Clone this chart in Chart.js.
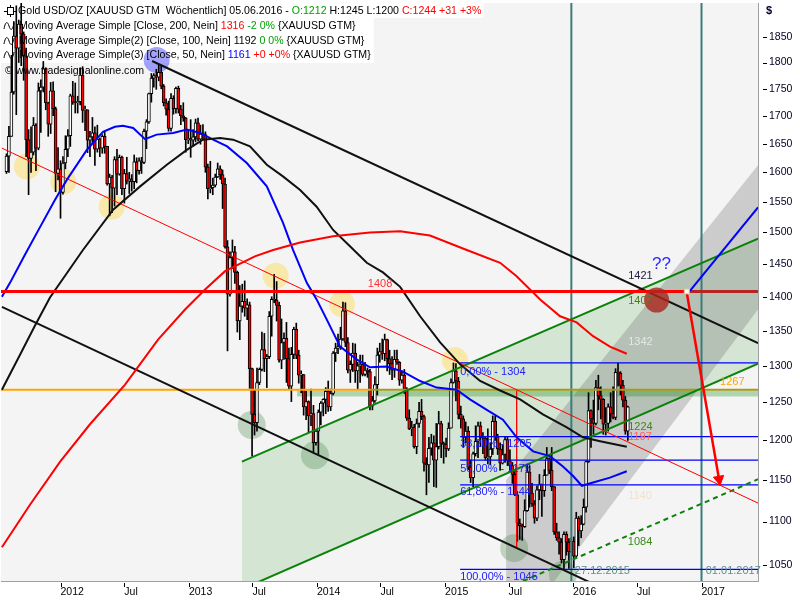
<!DOCTYPE html>
<html><head><meta charset="utf-8">
<script src="https://cdn.jsdelivr.net/npm/chart.js@4.4.1/dist/chart.umd.min.js"></script>
<style>html,body{margin:0;padding:0;background:#fff}canvas{display:block}</style>
</head><body>
<canvas id="c" width="800" height="600"></canvas>
<script>
// ---------- DATA ----------
// x values are days since 2012-01-01; weekly bars dated by week end (Sunday)
const firstBarDate = '2011-07-31';
const opens = [
1601,1628,1663,1744,1852,1828,1876,1856,1813,1657,1624,1635,1683,1642,1746,1753,1788,1724,1685,1746,1713,1598,1606,
1566,1616,1640,1664,1737,1725,1724,1726,1776,1710,1711,1656,1662,1669,1640,1658,1642,1663,1645,1580,1592,1573,1622,1597,1626,1572,1598,1585,1589,1584,1618,1603,1620,1617,1672,1689,1741,1770,1775,1772,1781,1755,1724,1712,1677,1732,1713,1751,1712,1700,1696,1657,1659,
1656,1662,1687,1658,1667,1666,1609,1572,1574,1578,1592,1606,1596,1580,1477,1404,1460,1469,1437,1364,1386,1393,1383,1388,1296,1234,1223,1277,1295,1323,1310,1313,1371,1396,1395,1387,1308,1333,1339,1310,1272,1316,1352,1315,1287,1288,1244,1251,1232,1235,1197,1212,
1237,1249,1254,1265,1244,1262,1318,1325,1327,1338,1379,1333,1294,1302,1318,1293,1300,1302,1288,1294,1292,1245,1252,1274,1315,1320,1317,1337,1310,1303,1294,1309,1305,1280,1287,1268,1229,1215,1217,1192,1222,1238,1231,1171,1169,1190,1197,1175,1192,1222,1196,1195,
1189,1216,1277,1293,1279,1234,1228,1204,1212,1166,1153,1183,1199,1219,1205,1203,1178,1179,1189,1225,1205,1189,1171,1182,1201,1174,1168,1157,1132,1098,1095,1094,1113,1160,1134,1121,1104,1138,1145,1137,1156,1177,1162,1142,1088,1081,1076,1056,1085,1076,1065,1077,
1060,1104,1089,1097,1117,1173,1239,1228,1222,1270,1259,1254,1221,1222,1244,1235,1230,1291,1290,1273,1253,1212];
const highs = [
1632,1681,1814,1881,1913,1884,1921,1860,1828,1675,1680,1697,1686,1761,1767,1802,1790,1725,1762,1763,1716,1643,1620,
1627,1664,1675,1740,1764,1761,1736,1790,1792,1718,1711,1672,1697,1680,1683,1660,1666,1672,1645,1597,1595,1627,1640,1630,1628,1605,1626,1600,1596,1630,1625,1625,1626,1676,1693,1742,1779,1779,1787,1796,1793,1758,1731,1727,1741,1737,1753,1755,1719,1724,1697,1674,1693,
1675,1694,1696,1683,1684,1671,1614,1619,1590,1597,1616,1611,1604,1590,1487,1469,1488,1478,1439,1417,1419,1424,1397,1392,1297,1267,1297,1297,1348,1346,1316,1378,1400,1434,1423,1392,1367,1347,1362,1325,1326,1355,1361,1322,1293,1288,1265,1252,1268,1246,1214,1240,
1251,1255,1270,1279,1268,1320,1332,1345,1355,1392,1391,1340,1307,1332,1331,1305,1315,1315,1305,1297,1295,1258,1285,1325,1332,1338,1345,1338,1322,1313,1322,1322,1306,1293,1295,1270,1240,1225,1221,1228,1250,1254,1233,1178,1204,1208,1206,1222,1238,1225,1198,1203,
1223,1282,1304,1303,1284,1245,1232,1224,1218,1175,1185,1219,1224,1224,1210,1205,1215,1197,1232,1232,1208,1197,1194,1205,1205,1188,1172,1161,1136,1103,1097,1126,1170,1168,1146,1125,1143,1157,1145,1163,1191,1178,1191,1142,1098,1088,1080,1088,1088,1080,1081,1082,
1111,1106,1107,1127,1174,1263,1240,1253,1280,1287,1271,1255,1243,1248,1263,1271,1296,1304,1292,1280,1258,1245];
const lows = [
1598,1600,1663,1740,1702,1800,1794,1766,1627,1562,1600,1630,1603,1639,1670,1744,1711,1663,1668,1700,1567,1587,1523,
1563,1606,1627,1645,1721,1705,1705,1720,1688,1673,1634,1627,1650,1612,1635,1627,1633,1633,1578,1527,1532,1543,1562,1595,1562,1548,1580,1564,1568,1572,1582,1597,1598,1615,1641,1686,1725,1753,1749,1765,1750,1718,1701,1672,1672,1703,1705,1705,1684,1690,1635,1650,1626,
1646,1653,1655,1649,1658,1600,1555,1565,1562,1575,1591,1588,1539,1475,1321,1401,1443,1420,1348,1337,1377,1371,1366,1269,1180,1207,1212,1274,1293,1292,1270,1310,1342,1391,1364,1305,1296,1309,1277,1268,1251,1310,1310,1276,1263,1233,1227,1210,1219,1185,1194,1182,
1220,1232,1235,1238,1239,1260,1306,1317,1323,1336,1327,1290,1277,1292,1277,1268,1277,1286,1286,1284,1240,1240,1250,1260,1305,1309,1307,1293,1288,1281,1284,1302,1273,1276,1262,1226,1214,1206,1190,1183,1217,1227,1161,1132,1147,1181,1142,1141,1189,1178,1171,1179,
1187,1216,1276,1252,1228,1216,1191,1197,1163,1147,1142,1180,1178,1192,1183,1175,1170,1169,1182,1200,1182,1162,1170,1172,1168,1162,1146,1131,1077,1079,1078,1093,1112,1117,1118,1098,1101,1126,1106,1130,1156,1158,1137,1085,1078,1062,1052,1045,1061,1046,1064,1047,
1058,1072,1081,1096,1111,1172,1191,1208,1220,1240,1228,1208,1207,1212,1224,1228,1227,1272,1260,1244,1208,1200];
const closes = [
1628,1663,1744,1852,1828,1876,1856,1813,1657,1624,1635,1683,1642,1746,1753,1788,1724,1685,1746,1713,1598,1606,1566,
1616,1640,1664,1737,1725,1724,1726,1776,1710,1711,1656,1662,1669,1640,1658,1642,1663,1645,1580,1592,1573,1622,1597,1626,1572,1598,1585,1589,1584,1618,1603,1620,1617,1672,1689,1741,1770,1775,1772,1781,1755,1724,1712,1677,1732,1713,1751,1712,1700,1696,1657,1659,1656,
1662,1687,1658,1667,1666,1609,1572,1574,1578,1592,1606,1596,1580,1477,1404,1460,1469,1437,1364,1386,1393,1383,1388,1296,1234,1223,1277,1295,1323,1310,1313,1371,1396,1395,1387,1308,1333,1339,1310,1272,1316,1352,1315,1287,1288,1244,1251,1232,1235,1197,1212,1237,
1249,1254,1265,1244,1262,1318,1325,1327,1338,1379,1333,1294,1302,1318,1293,1300,1302,1288,1294,1292,1245,1252,1274,1315,1320,1317,1337,1310,1303,1294,1309,1305,1280,1287,1268,1229,1215,1217,1192,1222,1238,1231,1171,1169,1190,1197,1175,1192,1222,1196,1195,1189,
1216,1277,1293,1279,1234,1228,1204,1212,1166,1153,1183,1199,1219,1205,1203,1178,1179,1189,1225,1205,1189,1171,1182,1201,1174,1168,1157,1132,1098,1095,1094,1113,1160,1134,1121,1104,1138,1145,1137,1156,1177,1162,1142,1088,1081,1076,1056,1085,1076,1065,1077,1060,
1104,1089,1097,1117,1173,1239,1228,1222,1270,1259,1254,1221,1222,1244,1235,1230,1291,1290,1273,1253,1212,1244];

// moving averages [day, price]
const ma200 = [[-167,1070],[-87,1120],[-1,1173],[84,1221],[184,1274],[278,1337],[355,1381],[412,1411],[469,1439],[554,1462],[606,1472],[683,1484],[777,1494],[882,1500],[968,1502],[1053,1495],[1158,1472],[1253,1452],[1300,1431],[1367,1396],[1424,1371],[1471,1362],[1518,1342],[1566,1327],[1614,1317]];
const ma100 = [[-167,1267],[-115,1316],[-73,1357],[-30,1399],[64,1472],[150,1537],[227,1576],[303,1613],[360,1639],[406,1657],[455,1660],[492,1657],[540,1645],[588,1613],[634,1593],[683,1570],[730,1542],[777,1504],[825,1478],[873,1452],[919,1437],[968,1415],[1025,1371],[1082,1333],[1139,1302],[1196,1279],[1253,1266],[1310,1254],[1375,1234],[1443,1217],[1489,1204],[1538,1199],[1614,1192]];
const ma50 = [[-167,1400],[-144,1421],[-101,1465],[-58,1509],[-16,1553],[18,1587],[75,1639],[121,1671],[155,1680],[178,1682],[207,1678],[241,1658],[274,1666],[321,1669],[360,1675],[398,1669],[435,1657],[475,1645],[531,1616],[588,1576],[634,1516],[663,1472],[702,1421],[730,1396],[759,1366],[797,1327],[844,1309],[882,1298],[930,1299],[976,1292],[1025,1279],[1072,1270],[1129,1267],[1167,1254],[1215,1240],[1261,1227],[1300,1204],[1347,1186],[1395,1180],[1432,1167],[1461,1155],[1486,1143],[1518,1147],[1566,1153],[1614,1161]];

// drawn objects (trend lines, channels, levels) as [day, price]
const resistanceLevel = 1408, supportLevel = 1267;
const blackChannelUpper = [[261,1803],[1988,1332]];
const blackChannelLower = [[-167,1385],[1595,1015]];
const redSupportLine = [[-167,1642],[1988,1122]];
const greenChannelUpper = [[517,1173],[1988,1490]];
const greenChannelLower = [[517,1023],[1988,1303]];
const greenDashedLine = [[1295,1028],[1988,1151]];
const grayChannelUpper = [[1270,1150],[1988,1612]];
const grayChannelLower = [[1270,963],[1988,1381]];
const greenBand = {from:674, to:1988, low:1258, high:1266};
const fibStartDay = 1139;
const fibLevels = [1304,1205,1175,1144,1045];
const fibLabels = ['0,00% - 1304','38,20% - 1205','50,00% - 1175','61,80% - 1144','100,00% - 1045'];
const fibLabelPrices = [1292,1195,1164,1135,1037];
const julyLowMarker = [[1300,1266],[1300,1070]];
const verticalDates = ['2015-12-27','2017-01-01'];
const verticalLabels = ['27.12.2015','01.01.2017'];
const projectionBlue = [[1794,1409],[1988,1541]];
const projectionArrow = [[1785,1406],[1877,1151]];
const breakPoint = [1785,1408];
const yellowCircles = [[-96,1610],[8,1584],[146,1542],[613,1432],[802,1389],[1124,1308]];
const greenCircles = [[545,1220],[725,1181],[1293,1069],[1432,1039]];
const blueCircles = [[274,1805]];
const redCircles = [[1699,1395]];

// axis ticks
const xTickDates = ['2012-01-01','2012-07-01','2013-01-01','2013-07-01','2014-01-01','2014-07-01','2015-01-01','2015-07-01','2016-01-01','2016-07-01','2017-01-01'];
const xTickLabels = ['2012','Jul','2013','Jul','2014','Jul','2015','Jul','2016','Jul','2017'];
const yTickValues = [1050,1100,1150,1200,1250,1300,1350,1400,1450,1500,1550,1600,1650,1700,1750,1800,1850];

const textLabels = [
 {x:876, y:1420, text:'1408', color:'#ff3030'},
 {x:1880, y:1277, text:'1267', color:'#ffa500'},
 {x:1618, y:1432, text:'1421', color:'#202040'},
 {x:1618, y:1393, text:'1402', color:'#4a7a20'},
 {x:1686, y:1450, text:'??', color:'#2828ff', size:17},
 {x:1618, y:1333, text:'1342', color:'#e4e8e4'},
 {x:1618, y:1217, text:'1224', color:'#3a8a1a'},
 {x:1618, y:1204, text:'1197', color:'#ff6060'},
 {x:1618, y:1131, text:'1140', color:'#f0e2cc'},
 {x:1617, y:1076, text:'1084', color:'#3a8a1a'},
 {x:1466, y:1043, text:verticalLabels[0], color:'#5f8f8f'},
 {x:1839, y:1043, text:verticalLabels[1], color:'#5f8f8f'}
];
fibLabels.forEach((t,i)=>textLabels.push({x:fibStartDay, y:fibLabelPrices[i], text:t, color:'#2020ff'}));

const legendRows = [
 [['Gold USD/OZ [XAUUSD GTM  Wöchentlich] 05.06.2016 - ','#000'],['O:1212','#00a000'],[' H:1245 L:1200 ','#000'],['C:1244 +31 +3%','#ff0000']],
 [['Moving Average Simple [Close, 200, Nein] ','#000'],['1316','#ff0000'],[' -2 0%','#00a000'],[' {XAUUSD GTM}','#000']],
 [['Moving Average Simple(2) [Close, 100, Nein] 1192 ','#000'],['0 0%','#00a000'],[' {XAUUSD GTM}','#000']],
 [['Moving Average Simple(3) [Close, 50, Nein] ','#000'],['1161','#0000ff'],[' +0 +0%','#ff0000'],[' {XAUUSD GTM}','#000']],
 [['\u00a9 www.tradesignalonline.com','#000']]
];

// ---------- BUILD ----------
const DAY0 = Date.UTC(2012,0,1);
function dayOf(s){ const [y,m,d]=s.split('-').map(Number); return (Date.UTC(y,m-1,d)-DAY0)/86400000; }
const firstDay = dayOf(firstBarDate);
const n = Math.min(opens.length, highs.length, lows.length, closes.length);
const barDays = Array.from({length:n}, (_,i)=> firstDay + 7*i);
const xTickDays = xTickDates.map(dayOf);

const FONT = '"Liberation Sans", Arial, sans-serif';
Chart.defaults.font.family = FONT;

const P = arr => arr.map(([x,y]) => ({x, y}));
function lineDs(points, color, width, order, extra){
  return Object.assign({type:'line', data:P(points), borderColor:color, borderWidth:width, pointRadius:0, fill:false, tension:0, order}, extra||{});
}
const datasets = [];
datasets.push(lineDs(greenChannelLower, 'rgba(0,0,0,0)', 0, 100));
datasets.push(lineDs(greenChannelUpper, 'rgba(0,0,0,0)', 0, 100, {fill: datasets.length-1, backgroundColor:'rgba(0,128,0,0.13)'}));
datasets.push(lineDs(grayChannelLower, 'rgba(0,0,0,0)', 0, 98));
datasets.push(lineDs(grayChannelUpper, 'rgba(0,0,0,0)', 0, 98, {fill: datasets.length-1, backgroundColor:'rgba(100,100,100,0.28)'}));
datasets.push(lineDs([[greenBand.from,greenBand.low],[greenBand.to,greenBand.low]], 'rgba(0,0,0,0)', 0, 97, {fill:{value:greenBand.high}, backgroundColor:'rgba(0,128,0,0.28)'}));
datasets.push({type:'bubble', data:P(yellowCircles), backgroundColor:'rgba(255,214,60,0.40)', borderWidth:0, radius:13, order:90});
datasets.push({type:'bubble', data:P(greenCircles), backgroundColor:'rgba(70,130,70,0.30)', borderWidth:0, radius:14, order:90});
datasets.push({type:'bubble', data:P(blueCircles), backgroundColor:'rgba(90,90,255,0.55)', borderWidth:0, radius:13, order:90});
datasets.push({type:'bar', data: barDays.map((d,i)=>({x:d, y:[lows[i], highs[i]]})), backgroundColor:'#000', borderWidth:0, barThickness:1, grouped:false, order:50});
datasets.push({type:'bar', data: barDays.map((d,i)=>({x:d, y:[opens[i], closes[i]]})),
  backgroundColor: barDays.map((d,i)=> closes[i]>=opens[i] ? '#ffffff' : '#ff0000'),
  borderColor:'#000', borderWidth:1, borderSkipped:false, barThickness:3, grouped:false, minBarLength:1, order:49});
datasets.push(lineDs(blackChannelUpper, '#111', 2, 20));
datasets.push(lineDs(blackChannelLower, '#111', 2, 20));
datasets.push(lineDs(redSupportLine, '#ff0000', 1, 20));
datasets.push(lineDs(greenChannelUpper, '#0a820a', 2, 20));
datasets.push(lineDs(greenChannelLower, '#0a820a', 2, 20));
datasets.push(lineDs(greenDashedLine, '#0a820a', 2, 20, {borderDash:[5,4]}));
datasets.push(lineDs([[-170,supportLevel],[882,supportLevel]], '#ffa500', 2, 20));
datasets.push(lineDs([[882,supportLevel],[1988,supportLevel]], '#a39c18', 2, 20));
fibLevels.forEach(l => datasets.push(lineDs([[fibStartDay,l],[1988,l]], '#0000ff', 1.2, 20)));
datasets.push(lineDs(julyLowMarker, '#ff0000', 1, 20));
verticalDates.map(dayOf).forEach(d => datasets.push(lineDs([[d,900],[d,2100]], '#3b7c79', 2, 20)));
datasets.push(lineDs(ma200, '#ff0000', 2, 19));
datasets.push(lineDs(ma100, '#111', 2, 19));
datasets.push(lineDs(ma50, '#0000ff', 2, 19));
datasets.push(lineDs([[-170,resistanceLevel],[breakPoint[0],resistanceLevel]], '#ff0000', 3, 18));
datasets.push(lineDs([[breakPoint[0],resistanceLevel],[1988,resistanceLevel]], '#b82222', 3, 18));
datasets.push({type:'bubble', data:P(redCircles), backgroundColor:'rgba(170,40,30,0.82)', borderWidth:0, radius:12.5, order:10});
datasets.push(lineDs(projectionBlue, '#0000ff', 2, 10));
datasets.push(lineDs(projectionArrow, '#ff0000', 2.5, 10, {pointRadius:[0,6], pointStyle:'triangle', pointRotation:[0,170], pointBackgroundColor:'#ff0000', pointBorderColor:'#ff0000', pointBorderWidth:1}));
datasets.push(lineDs([breakPoint], '#000', 0, 9, {showLine:false, pointRadius:3.5, pointStyle:'rect', pointBackgroundColor:'#fffff0', pointBorderColor:'#c8c8a0', pointBorderWidth:1}));

const LEG_FONT = '10.6px ' + FONT;
const legendY = [11, 26, 41, 55, 71];
const legendX = [18, 19, 19, 19, 5];

const overlay = {
  id:'overlay',
  beforeDraw(chart){
    const {ctx, chartArea:a} = chart;
    ctx.save();
    ctx.fillStyle = '#ffffff'; ctx.fillRect(0,0,chart.width,chart.height);
    ctx.fillStyle = '#f4f4f4'; ctx.fillRect(a.left, a.top, a.right-a.left, a.bottom-a.top);
    ctx.restore();
  },
  beforeDatasetsDraw(chart){
    const {ctx, chartArea:a} = chart;
    ctx.save();
    ctx.font = LEG_FONT;
    const widths = legendRows.map(r => r.reduce((s,[t])=>s+ctx.measureText(t).width,0));
    ctx.fillStyle = '#ffffff';
    ctx.fillRect(a.left, a.top, legendX[0]+widths[0]+2-a.left, 15);
    const w2 = Math.max(widths[1],widths[2],widths[3]) + 19 + 3;
    ctx.fillRect(a.left, a.top+15, w2-a.left, 45);
    ctx.restore();
  },
  afterDatasetsDraw(chart){
    const {ctx} = chart;
    const xs = chart.scales.x, ys = chart.scales.y;
    ctx.save();
    ctx.textAlign = 'left'; ctx.textBaseline = 'middle';
    for (const l of textLabels){
      ctx.font = (l.size||11) + 'px ' + FONT;
      ctx.fillStyle = l.color;
      ctx.fillText(l.text, xs.getPixelForValue(l.x), ys.getPixelForValue(l.y));
    }
    ctx.font = LEG_FONT;
    legendRows.forEach((row, r) => {
      let x = legendX[r]; const y = legendY[r];
      row.forEach(([t,c]) => { ctx.fillStyle = c; ctx.fillText(t, x, y+0.5); x += ctx.measureText(t).width; });
    });
    ctx.strokeStyle = '#000'; ctx.lineWidth = 1;
    ctx.beginPath(); ctx.moveTo(10.5, legendY[0]-6); ctx.lineTo(10.5, legendY[0]+6); ctx.stroke();
    ctx.fillStyle = '#fff'; ctx.fillRect(7.5, legendY[0]-3.5, 6, 7); ctx.strokeRect(7.5, legendY[0]-3.5, 6, 7);
    ctx.beginPath(); ctx.moveTo(4, legendY[0]+0.5); ctx.lineTo(7.5, legendY[0]+0.5); ctx.moveTo(13.5, legendY[0]+0.5); ctx.lineTo(17, legendY[0]+0.5); ctx.stroke();
    for (let r=1;r<=3;r++){
      const y = legendY[r];
      ctx.beginPath(); ctx.moveTo(4, y+3);
      ctx.bezierCurveTo(5.5, y-5, 7.5, y-5, 9, y);
      ctx.bezierCurveTo(10.5, y+5, 12.5, y+5, 14, y-3);
      ctx.stroke();
    }
    ctx.restore();
  },
  afterDraw(chart){
    const {ctx, chartArea:a} = chart;
    const xs = chart.scales.x, ys = chart.scales.y;
    ctx.save();
    ctx.strokeStyle = '#000'; ctx.lineWidth = 1;
    ctx.beginPath();
    ys.ticks.forEach(t => { const y = Math.round(ys.getPixelForValue(t.value))+0.5; ctx.moveTo(a.right+5, y); ctx.lineTo(a.right+9, y); });
    xs.ticks.forEach(t => { const x = Math.round(xs.getPixelForValue(t.value))+0.5; ctx.moveTo(x, a.bottom+2); ctx.lineTo(x, a.bottom+6); });
    ctx.stroke();
    ctx.fillStyle = '#000033'; ctx.font = 'bold 11px ' + FONT; ctx.textBaseline='middle'; ctx.textAlign='left';
    ctx.fillText('$', a.right+8, 11);
    ctx.restore();
  }
};

new Chart(document.getElementById('c'), {
  type: 'bar',
  data: { datasets },
  options: {
    responsive: false, animation: false, events: [], devicePixelRatio: 1,
    layout: { autoPadding: false, padding: { top: 3, left: 1, right: 0, bottom: 0 } },
    plugins: { legend: { display: false }, tooltip: { enabled: false } },
    scales: {
      x: { type:'linear', position:'bottom', min:-169.6, max:1988, offset:false, bounds:'data',
           afterBuildTicks: s => { s.ticks = xTickDays.map(v => ({value:v})); },
           afterFit: s => { s.height = 19; s.paddingLeft = 0; s.paddingRight = 0; },
           grid: { drawOnChartArea:false, drawTicks:false, offset:false },
           border: { display:true, color:'#a0a0a0', width:1 },
           ticks: { autoSkip:false, maxRotation:0, minRotation:0, align:'start', padding:5, color:'#000', font:{size:10.5}, callback:(v,i)=>xTickLabels[i] } },
      y: { type:'logarithmic', position:'right', min:1032, max:1918.7, bounds:'data',
           afterBuildTicks: s => { s.ticks = yTickValues.map(v => ({value:v})); },
           afterFit: s => { s.width = 42; s.paddingTop = 0; s.paddingBottom = 0; },
           grid: { drawOnChartArea:false, drawTicks:false },
           border: { display:true, color:'#a0a0a0', width:1 },
           ticks: { autoSkip:false, padding:11, color:'#000022', font:{size:10.5}, callback: v => String(v) } }
    }
  },
  plugins: [overlay]
});
</script>
</body></html>
